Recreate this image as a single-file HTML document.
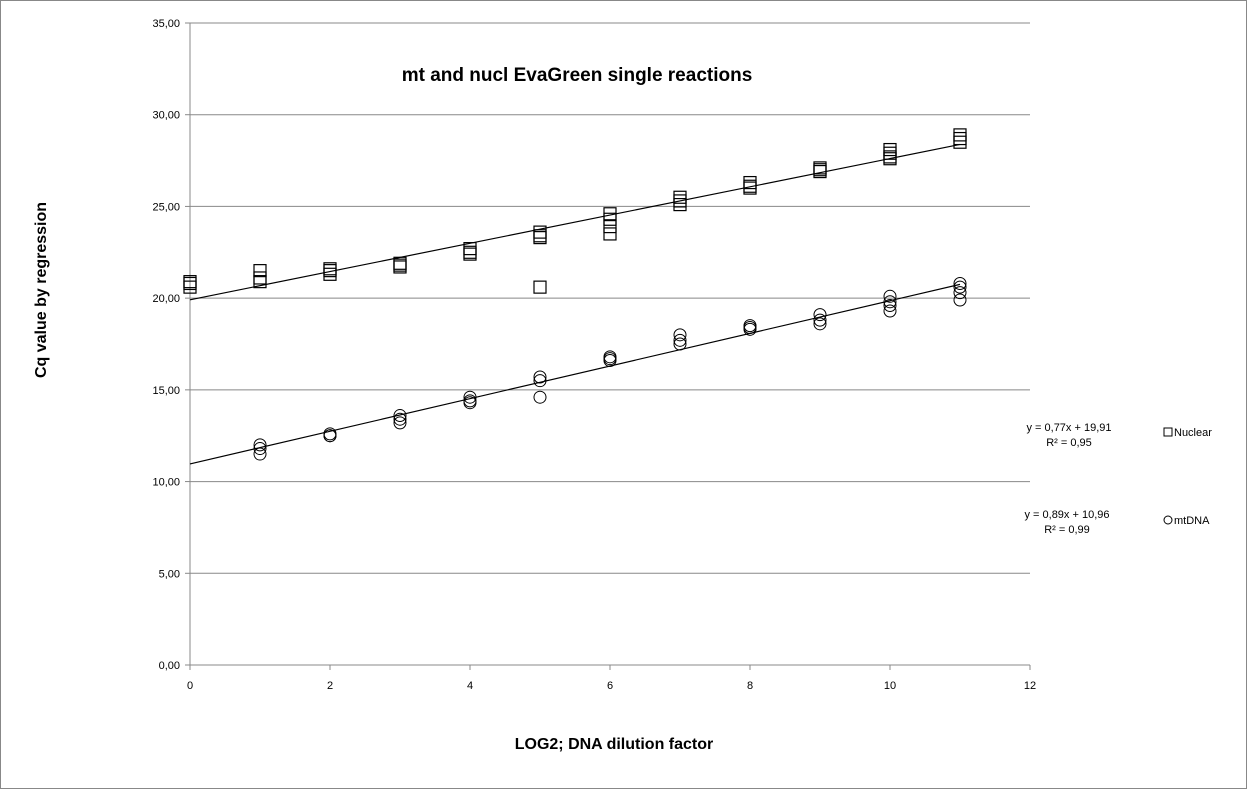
<!DOCTYPE html>
<html><head><meta charset="utf-8"><style>
body{margin:0;background:#fff;}
svg{display:block;font-family:"Liberation Sans",sans-serif;}
</style></head><body>
<svg id="chart" width="1247" height="789" xmlns="http://www.w3.org/2000/svg">
<rect x="0.5" y="0.5" width="1246" height="788" fill="#fff" stroke="#888"/>
<text x="577" y="81" text-anchor="middle" font-size="19" font-weight="bold">mt and nucl EvaGreen single reactions</text>
<text transform="translate(46,290) rotate(-90)" text-anchor="middle" font-size="16" font-weight="bold">Cq value by regression</text>
<text x="614" y="749" text-anchor="middle" font-size="16" font-weight="bold">LOG2; DNA dilution factor</text>
<g id="grid"></g><g id="axes"></g><g id="marks"></g>
<g font-size="11">
<text x="1069" y="431" text-anchor="middle">y = 0,77x + 19,91</text>
<text x="1069" y="446" text-anchor="middle">R² = 0,95</text>
<text x="1067" y="518" text-anchor="middle">y = 0,89x + 10,96</text>
<text x="1067" y="533" text-anchor="middle">R² = 0,99</text>
<rect x="1164" y="428" width="8" height="8" fill="none" stroke="#000"/>
<text x="1174" y="436">Nuclear</text>
<circle cx="1168" cy="520" r="4" fill="none" stroke="#000"/>
<text x="1174" y="524">mtDNA</text>
</g>
</svg>
<script>
const yTicks=[0,5,10,15,20,25,30,35];
const yTickLabels=["0,00","5,00","10,00","15,00","20,00","25,00","30,00","35,00"];
const xTicks=[0,2,4,6,8,10,12];
const nuclearX=[0,0,0,1,1,1,2,2,2,3,3,3,4,4,4,5,5,5,5,6,6,6,6,7,7,7,8,8,8,9,9,9,10,10,10,10,11,11,11];
const nuclearY=[20.9,20.8,20.6,21.5,21.1,20.9,21.6,21.5,21.3,21.9,21.8,21.7,22.7,22.5,22.4,23.6,23.4,23.3,20.6,24.6,24.3,23.9,23.5,25.5,25.3,25.1,26.3,26.1,26.0,27.1,27.0,26.9,28.1,27.9,27.7,27.6,28.9,28.7,28.5];
const mtX=[1,1,1,2,2,2,3,3,3,4,4,4,5,5,5,6,6,6,7,7,7,8,8,8,9,9,9,10,10,10,10,11,11,11,11];
const mtY=[12.0,11.8,11.5,12.6,12.5,12.5,13.6,13.4,13.2,14.6,14.4,14.3,15.7,15.5,14.6,16.8,16.7,16.6,18.0,17.7,17.5,18.5,18.4,18.3,19.1,18.8,18.6,20.1,19.8,19.6,19.3,20.8,20.6,20.3,19.9];
const nuclearFit=[0.77,19.91];
const mtFit=[0.89,10.96];
const NS="http://www.w3.org/2000/svg";
const X0=190,X1=1030,Y0=665,Y1=23;
const xs=v=>X0+(v/12)*(X1-X0);
const ys=v=>Y0-(v/35)*(Y0-Y1);
function mk(parent,tag,attrs){const e=document.createElementNS(NS,tag);for(const k in attrs)e.setAttribute(k,attrs[k]);document.getElementById(parent).appendChild(e);return e;}
yTicks.forEach((t,i)=>{
 if(t>0){const g=mk('grid','line',{x1:X0,x2:X1,y1:ys(t),y2:ys(t),stroke:'#888','stroke-width':1});
 
 }
 const tk=mk('axes','line',{x1:X0-5,x2:X0,y1:ys(t),y2:ys(t),stroke:'#888'});
 
 
 const l=mk('axes','text',{x:X0-10,y:ys(t)+4,'text-anchor':'end','font-size':11});
 l.textContent=yTickLabels[i];
 
 
});
xTicks.forEach(t=>{
 const tk=mk('axes','line',{x1:xs(t),x2:xs(t),y1:Y0,y2:Y0+5,stroke:'#888'});
 
 
 const l=mk('axes','text',{x:xs(t),y:Y0+24,'text-anchor':'middle','font-size':11});
 l.textContent=String(t);
 
 
});
const ya=mk('axes','line',{x1:X0,x2:X0,y1:Y1,y2:Y0,stroke:'#888'});


const xa=mk('axes','line',{x1:X0,x2:X1,y1:Y0,y2:Y0,stroke:'#888'});


nuclearX.forEach((x,i)=>{
 const r=mk('marks','rect',{x:xs(x)-6,y:ys(nuclearY[i])-6,width:12,height:12,fill:'none',stroke:'#000','stroke-width':1.2});
 
 
});
mtX.forEach((x,i)=>{
 const c=mk('marks','circle',{cx:xs(x),cy:ys(mtY[i]),r:6,fill:'none',stroke:'#000','stroke-width':1});
 
 
});
const t1=mk('marks','line',{x1:xs(0),y1:ys(nuclearFit[1]),x2:xs(11),y2:ys(nuclearFit[0]*11+nuclearFit[1]),stroke:'#000','stroke-width':1.2});


const t2=mk('marks','line',{x1:xs(0),y1:ys(mtFit[1]),x2:xs(11),y2:ys(mtFit[0]*11+mtFit[1]),stroke:'#000','stroke-width':1.2});


</script>
</body></html>
